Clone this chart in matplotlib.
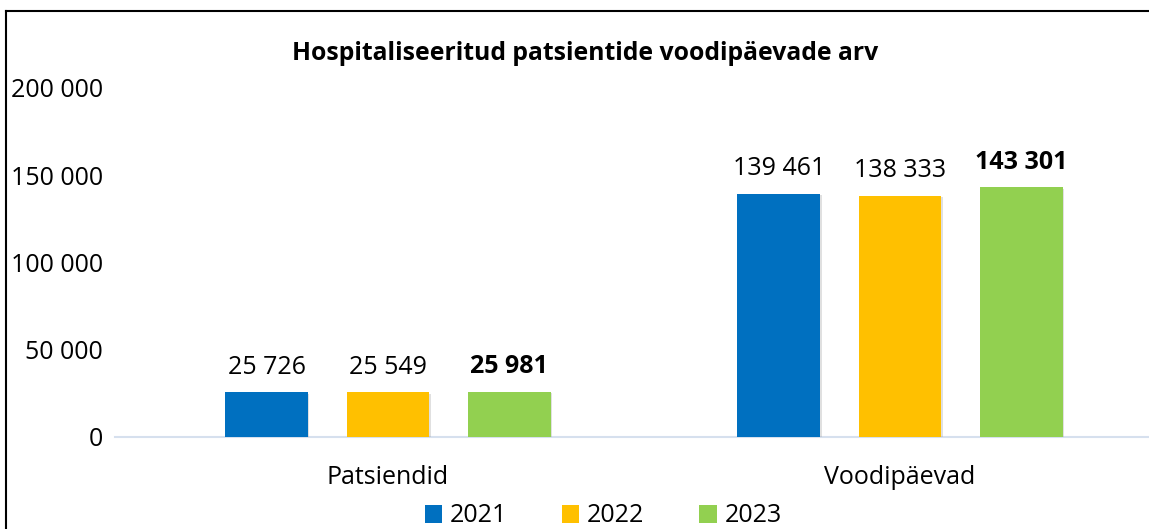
import numpy as np
import matplotlib.pyplot as plt
from matplotlib.lines import Line2D
from matplotlib.patches import Patch
import matplotlib.patheffects as pe

# data
categories = ["Patsiendid", "Voodipäevad"]
years = ["2021", "2022", "2023"]
values_2021 = [25726, 139461]
values_2022 = [25549, 138333]
values_2023 = [25981, 143301]
yticks = [0, 50000, 100000, 150000, 200000]

BLUE = "#0070C0"
YELLOW = "#FFC000"
GREEN = "#92D050"
AXIS = "#D6E0EE"
FS = 18

plt.rcParams["font.family"] = ["Open Sans", "DejaVu Sans"]

fig = plt.figure(figsize=(11.49, 5.29), dpi=100)
W, H = 1149, 529
# axes: x 115..1149 px, y 88(200k)..437(0) px
ax = fig.add_axes([115 / W, 1 - 437 / H, (1149 - 115) / W, (437 - 88) / H])

x = np.arange(len(categories))
width = 0.161
offset = 0.237
series = [values_2021, values_2022, values_2023]
colors = [BLUE, YELLOW, GREEN]
shadow = [pe.SimplePatchShadow(offset=(1.2, -1.2), shadow_rgbFace="#999999", alpha=0.3), pe.Normal()]

for i, (vals, col, yr) in enumerate(zip(series, colors, years)):
    bars = ax.bar(x + (i - 1) * offset, vals, width=width, color=col, label=yr, zorder=3,
                  path_effects=shadow)
    for b, v in zip(bars, vals):
        s = f"{v:,}".replace(",", " ")
        ax.text(b.get_x() + b.get_width() / 2, v + 7000, s, ha="center", va="bottom",
                fontsize=FS, fontweight="bold" if yr == "2023" else "normal", color="black")

ax.set_xlim(-0.533, 1.486)
ax.set_ylim(0, 200000)
ax.set_yticks(yticks)
ax.set_yticklabels([f"{t:,}".replace(",", " ") for t in yticks], fontsize=FS)
ax.set_xticks(x)
ax.set_xticklabels(categories, fontsize=FS)
ax.tick_params(axis="both", length=0)
ax.tick_params(axis="y", pad=8.5)
ax.tick_params(axis="x", pad=20)
for sp in ["top", "right", "left"]:
    ax.spines[sp].set_visible(False)
ax.spines["bottom"].set_color(AXIS)
ax.spines["bottom"].set_linewidth(1.5)

fig.text(585 / W, 1 - 53 / H, "Hospitaliseeritud patsientide voodipäevade arv",
         ha="center", va="center", fontsize=17.8, fontweight="bold")

handles = [Patch(facecolor=c, label=y) for c, y in zip(colors, years)]
fig.legend(handles=handles, loc="center", bbox_to_anchor=(603 / W, 1 - 516 / H), ncol=3,
           frameon=False, fontsize=FS, handlelength=0.7, handleheight=0.7,
           handletextpad=0.3, columnspacing=2.2)

# outer frame: top and left edges only
fig.add_artist(Line2D([6 / W, 6 / W], [0, 1 - 11 / H], transform=fig.transFigure, color="black", lw=1.5))
fig.add_artist(Line2D([6 / W, 1], [1 - 11 / H, 1 - 11 / H], transform=fig.transFigure, color="black", lw=1.5))

fig.savefig("out.png", dpi=100)
